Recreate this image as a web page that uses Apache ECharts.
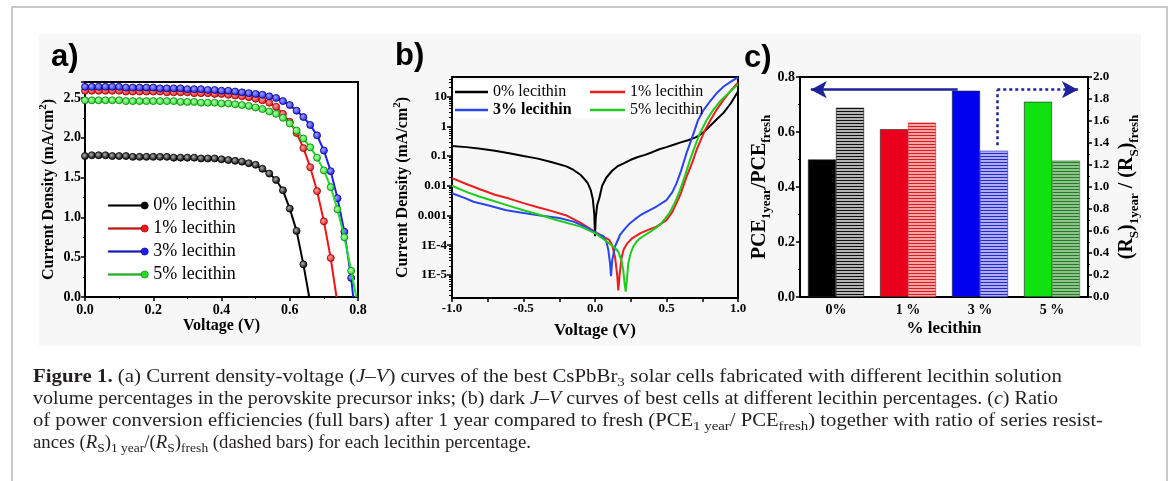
<!DOCTYPE html>
<html><head><meta charset="utf-8">
<script src="https://cdn.jsdelivr.net/npm/echarts@6/dist/echarts.min.js"></script>
<style>
html,body{margin:0;padding:0;background:#fff;width:1171px;height:481px;overflow:hidden;}
#frame{position:absolute;left:11px;top:6px;width:1153px;height:520px;border:2px solid #c9c9c9;border-bottom:none;}
#figbg{position:absolute;left:39px;top:34px;width:1102px;height:312px;background:#f7f7f7;}
#chart{position:absolute;left:0;top:0;width:1171px;height:481px;}
#caption{position:absolute;left:33px;top:365px;font-family:'Liberation Serif','Times New Roman',serif;font-size:18px;line-height:22px;color:#231f20;}
#caption .ln{white-space:nowrap;transform-origin:0 0;width:max-content;height:22px;}
#caption sub{font-size:0.72em;vertical-align:baseline;position:relative;top:0.28em;line-height:0;}
</style></head>
<body>
<div id="frame"></div>
<div id="figbg"></div>
<div id="chart"></div>
<div id="caption">
<div class="ln"><b>Figure 1.</b> (a) Current density-voltage (<i>J</i>–<i>V</i>) curves of the best CsPbBr<sub>3</sub> solar cells fabricated with different lecithin solution</div>
<div class="ln">volume percentages in the perovskite precursor inks; (b) dark <i>J</i>–<i>V</i> curves of best cells at different lecithin percentages. (<i>c</i>) Ratio</div>
<div class="ln">of power conversion efficiencies (full bars) after 1 year compared to fresh (PCE<sub>1 year</sub>/ PCE<sub>fresh</sub>) together with ratio of series resist-</div>
<div class="ln">ances (<i>R</i><sub>S</sub>)<sub>1 year</sub>/(<i>R</i><sub>S</sub>)<sub>fresh</sub> (dashed bars) for each lecithin percentage.</div>
</div>
<script>
// ---------- DATA ----------
// Panel a: illuminated J-V (V in volts, J in mA/cm2)
const voltageA = [0,0.02,0.04,0.06,0.08,0.1,0.12,0.14,0.16,0.18,0.2,0.22,0.24,0.26,0.28,0.3,0.32,0.34,0.36,0.38,0.4,0.42,0.44,0.46,0.48,0.5,0.52,0.54,0.56,0.58,0.6,0.62,0.64,0.66,0.68,0.7,0.72,0.74,0.76,0.78];
const jv0 = [1.77,1.78,1.78,1.78,1.77,1.77,1.77,1.76,1.76,1.76,1.76,1.76,1.76,1.75,1.75,1.75,1.75,1.74,1.74,1.74,1.73,1.72,1.71,1.70,1.68,1.66,1.61,1.55,1.47,1.34,1.11,0.83,0.41];
const jv1 = [2.59,2.59,2.59,2.59,2.59,2.59,2.58,2.58,2.58,2.58,2.58,2.58,2.57,2.57,2.57,2.57,2.56,2.56,2.56,2.55,2.55,2.54,2.53,2.52,2.51,2.49,2.47,2.44,2.39,2.30,2.20,2.06,1.87,1.63,1.33,0.95,0.49];
const jv3 = [2.64,2.64,2.64,2.64,2.64,2.64,2.63,2.63,2.63,2.63,2.63,2.62,2.62,2.62,2.62,2.61,2.61,2.61,2.60,2.60,2.59,2.59,2.58,2.57,2.56,2.55,2.54,2.52,2.50,2.46,2.41,2.34,2.26,2.16,2.03,1.84,1.58,1.24,0.82,0.24];
const jv5 = [2.47,2.47,2.47,2.47,2.47,2.47,2.46,2.46,2.46,2.46,2.46,2.46,2.46,2.46,2.45,2.45,2.45,2.44,2.44,2.44,2.43,2.43,2.42,2.41,2.40,2.38,2.36,2.33,2.30,2.25,2.18,2.09,1.99,1.88,1.75,1.59,1.38,1.10,0.75,0.33];
const vocA = [0.657,0.737,0.786,0.795];
const seriesNames = ['0% lecithin','1% lecithin','3% lecithin','5% lecithin'];

// Panel b: dark J-V (log scale)
const darkV0 = [-1,-0.9,-0.8,-0.7,-0.6,-0.5,-0.4,-0.3,-0.2,-0.15,-0.1,-0.07,-0.05,-0.03,-0.015,-0.005,0,0.005,0.015,0.03,0.05,0.08,0.12,0.16,0.2,0.25,0.3,0.35,0.4,0.45,0.5,0.55,0.6,0.65,0.7,0.73,0.76,0.8,0.85,0.9,0.95,1.0];
const darkJ0 = [0.22,0.2,0.175,0.15,0.125,0.1,0.082,0.062,0.045,0.034,0.023,0.016,0.012,0.0072,0.0035,0.0011,0.0002,0.0008,0.0022,0.0038,0.01,0.019,0.032,0.046,0.057,0.075,0.093,0.11,0.135,0.17,0.2,0.24,0.29,0.34,0.42,0.5,0.65,0.98,1.7,2.9,6,15];
const darkV1 = [-1,-0.9,-0.8,-0.7,-0.6,-0.5,-0.4,-0.3,-0.2,-0.1,0,0.05,0.1,0.12,0.14,0.155,0.163,0.172,0.187,0.2,0.222,0.26,0.315,0.38,0.43,0.5,0.54,0.57,0.6,0.64,0.68,0.71,0.74,0.77,0.81,0.85,0.9,0.95,1.0];
const darkJ1 = [0.018,0.0115,0.0075,0.005,0.0037,0.0026,0.0019,0.0014,0.001,0.00056,0.00028,0.0002,0.00015,0.0001,0.00004,0.00001,0.000003,0.00001,0.00004,0.00007,0.00011,0.00017,0.00025,0.00034,0.00042,0.0007,0.0013,0.0026,0.0055,0.02,0.06,0.16,0.35,0.76,1.7,3.6,8,16,30];
const darkV3 = [-1,-0.9,-0.85,-0.75,-0.62,-0.5,-0.385,-0.25,-0.15,-0.05,0.01,0.058,0.08,0.093,0.105,0.112,0.12,0.14,0.175,0.21,0.245,0.28,0.315,0.37,0.43,0.5,0.54,0.57,0.6,0.64,0.69,0.72,0.76,0.8,0.85,0.9,0.95,1.0];
const darkJ3 = [0.0056,0.0037,0.0029,0.0022,0.0015,0.0012,0.001,0.00082,0.00062,0.00038,0.00025,0.0002,0.00013,0.00007,0.000025,0.000009,0.00003,0.00009,0.00022,0.00036,0.00055,0.00075,0.001,0.0014,0.002,0.0033,0.006,0.012,0.03,0.126,0.59,1.6,3.6,6.5,13,22,32,45];
const darkV5 = [-1,-0.9,-0.8,-0.73,-0.6,-0.5,-0.4,-0.27,-0.1,0.01,0.05,0.105,0.14,0.163,0.185,0.198,0.207,0.215,0.222,0.233,0.25,0.268,0.29,0.315,0.35,0.385,0.455,0.52,0.56,0.594,0.63,0.664,0.7,0.734,0.78,0.827,0.88,0.94,1.0];
const darkJ5 = [0.01,0.0062,0.0042,0.0033,0.0021,0.0015,0.0011,0.0007,0.00042,0.00024,0.00017,0.00011,0.00008,0.00006,0.00003,0.000014,0.000005,0.0000027,0.000006,0.000025,0.000055,0.00009,0.00013,0.00017,0.00022,0.00028,0.00048,0.0012,0.0028,0.007,0.022,0.074,0.22,0.59,1.6,3.6,7.5,14,26];
const logRangeB = [1.66e-6, 46];
const logTickExpB = [-5,-4,-3,-2,-1,0,1];
const logTickLabelsB = ['1E-5','1E-4','0.001','0.01','0.1','1','10'];

// Panel c: ratios after 1 year
const categoriesC = ['0%','1 %','3 %','5 %'];
const pceRatio = [0.50,0.61,0.75,0.71];
const rsRatio = [1.72,1.585,1.33,1.24];
// annotation arrows (data units of panel c: x in [0,4] across plot, y on left axis)
const arrowSolid = [[2.19,0.754],[0.15,0.754]];
const arrowDotted = [[2.74,0.552],[2.74,0.754],[3.86,0.754]];

// ---------- STYLE ----------
const serif = "'Liberation Serif','Times New Roman',serif";
const sans = "'Liberation Sans',Arial,sans-serif";
const lineColA = ['#000000','#ee1515','#1e1eee','#22dd22'];
const markEdgeA = ['#000000','#8a0000','#00007a','#0a7a0a'];
const markHiA = ['#b0b0b0','#ffa0a0','#a0a0ff','#b0ffb0'];
const lineColB = ['#000000','#ee1c1c','#2a44ee','#1ecc1e'];
const solidColC = ['#000000','#e8001c','#0000ee','#11e011'];
const hatchInk = ['#111111','#dc1c1c','#2828d0','#2a7a2a'];
const hatchPaper = ['#b4b4b4','#f4a4a4','#acacee','#8cc48c'];
const arrowColor = '#1c2299';
const legendIconA = 'path://M0,3.3L33,3.3L33,4.7L0,4.7Z M40,4A3.6,3.6,0,1,1,32.8,4A3.6,3.6,0,1,1,40,4Z';

function hatch(ink, paper){
  const c = document.createElement('canvas'); c.width = 4; c.height = 3;
  const g = c.getContext('2d');
  g.fillStyle = paper; g.fillRect(0,0,4,3);
  g.fillStyle = ink; g.fillRect(0,0,4,1);
  return c;
}

const jvSets = [jv0,jv1,jv3,jv5];
const darkSets = [[darkV0,darkJ0],[darkV1,darkJ1],[darkV3,darkJ3],[darkV5,darkJ5]];

const tickLbl = (sz)=>({fontFamily:serif,fontWeight:'bold',fontSize:sz,color:'#000'});
const axLine = {show:true,onZero:false,lineStyle:{color:'#000',width:2}};

const seriesA = jvSets.map((arr,i)=>{
  const d = arr.map((j,k)=>[voltageA[k], j]);
  d.push({value:[vocA[i],0], symbol:'none'});
  return {
    name: seriesNames[i], type:'line', xAxisIndex:0, yAxisIndex:0, data:d,
    symbol:'circle', symbolSize:7, z:3+i,
    lineStyle:{color:lineColA[i], width:2},
    itemStyle:{color:{type:'radial',x:0.4,y:0.4,r:0.6,colorStops:[{offset:0,color:markHiA[i]},{offset:1,color:lineColA[i]}]}, borderColor:markEdgeA[i], borderWidth:0.8},
    emphasis:{disabled:true}
  };
});
const seriesB = darkSets.map((p,i)=>({
  name: 'b:'+seriesNames[i], type:'line', xAxisIndex:1, yAxisIndex:1,
  data: p[0].map((v,k)=>[v, p[1][k]]),
  symbol:'none', lineStyle:{color:lineColB[i], width:2}, itemStyle:{color:lineColB[i]}, z:3,
  emphasis:{disabled:true}
}));
const minorLogB = [];
for (let e=-6; e<=1; e++) for (let k=2;k<=9;k++){ const v=Math.log10(k)+e; if (v>Math.log10(logRangeB[0]) && v<Math.log10(logRangeB[1])) minorLogB.push(v); }

const seriesC = [
  {name:'PCE', type:'bar', xAxisIndex:2, yAxisIndex:4, barWidth:28, barGap:'0%',
   data: pceRatio.map((v,i)=>({value:v, itemStyle:{color:solidColC[i], borderColor:'#222', borderWidth:0.6}})),
   emphasis:{disabled:true}},
  {name:'Rs', type:'bar', xAxisIndex:2, yAxisIndex:5, barWidth:28, barGap:'0%',
   data: rsRatio.map((v,i)=>({value:v, itemStyle:{color:{image:hatch(hatchInk[i],hatchPaper[i]),repeat:'repeat'}, borderColor:hatchInk[i], borderWidth:0.6}})),
   emphasis:{disabled:true}},
  {name:'arrows', type:'line', xAxisIndex:3, yAxisIndex:4, data:[], symbol:'none', silent:true,
   markLine:{silent:true, animation:false, label:{show:false}, symbol:['none','arrow'], symbolSize:[13,16],
     lineStyle:{color:arrowColor, width:2.5, type:'solid'}, emphasis:{disabled:true},
     data:[
       [{coord:arrowSolid[0]},{coord:arrowSolid[1]}],
       [{coord:arrowDotted[0], lineStyle:{type:[3,3]}, symbol:'none'},{coord:arrowDotted[1], symbol:'none'}],
       [{coord:arrowDotted[1], lineStyle:{type:[3,3]}},{coord:arrowDotted[2]}]
     ]}}
];

const supRich = {sup:{fontFamily:serif,fontWeight:'bold',fontSize:11,lineHeight:11,verticalAlign:'top'}};
const subRich = {sub:{fontFamily:serif,fontWeight:'bold',fontSize:13,lineHeight:13,verticalAlign:'bottom'}};

const option = {
  animation:false, backgroundColor:'transparent',
  grid:[
    {left:85, top:82, width:273, height:215, show:true, backgroundColor:'#fff', borderColor:'#000', borderWidth:2, outerBoundsMode:'none'},
    {left:452, top:77, width:286, height:221, show:true, backgroundColor:'transparent', borderColor:'#000', borderWidth:2, outerBoundsMode:'none'},
    {left:800, top:77, width:288, height:220, show:true, backgroundColor:'#fff', borderColor:'#000', borderWidth:2, outerBoundsMode:'none'}
  ],
  xAxis:[
    {gridIndex:0, type:'value', min:0, max:0.8, interval:0.2, axisLine:axLine,
     axisTick:{show:true,length:4,lineStyle:{color:'#000',width:1.5}}, minorTick:{show:true,splitNumber:2,length:2,lineStyle:{color:'#000'}},
     splitLine:{show:false}, axisLabel:Object.assign(tickLbl(14),{margin:6,formatter:v=>v.toFixed(1)}),
     name:'Voltage (V)', nameLocation:'middle', nameGap:20, nameTextStyle:{fontFamily:serif,fontWeight:'bold',fontSize:16,color:'#000',lineHeight:16}},
    {gridIndex:1, type:'value', min:-1, max:1, interval:0.5, axisLine:axLine,
     axisTick:{show:true,length:4,lineStyle:{color:'#000',width:1.5}}, minorTick:{show:true,splitNumber:2,length:4,lineStyle:{color:'#000',width:1.5}},
     splitLine:{show:false}, axisLabel:Object.assign(tickLbl(13),{margin:4,formatter:v=>v.toFixed(1)}),
     name:'Voltage (V)', nameLocation:'middle', nameGap:24, nameTextStyle:{fontFamily:serif,fontWeight:'bold',fontSize:17,color:'#000',lineHeight:17}},
    {gridIndex:2, type:'category', data:categoriesC, axisLine:axLine, axisTick:{show:false},
     axisLabel:Object.assign(tickLbl(14),{margin:6}),
     name:'% lecithin', nameLocation:'middle', nameGap:23, nameTextStyle:{fontFamily:serif,fontWeight:'bold',fontSize:17,color:'#000',lineHeight:17}},
    {gridIndex:2, type:'value', min:0, max:4, show:false, position:'top'}
  ],
  yAxis:[
    {gridIndex:0, type:'value', min:0, max:2.7, interval:0.5, axisLine:axLine,
     axisTick:{show:true,length:4,lineStyle:{color:'#000',width:1.5}}, minorTick:{show:true,splitNumber:2,length:2,lineStyle:{color:'#000'}},
     splitLine:{show:false}, axisLabel:Object.assign(tickLbl(14),{margin:4,showMaxLabel:false,formatter:v=>v.toFixed(1)}),
     name:'Current Density (mA/cm{sup|2})', nameLocation:'middle', nameRotate:90, nameGap:22,
     nameTextStyle:{fontFamily:serif,fontWeight:'bold',fontSize:16,color:'#000',lineHeight:22,rich:supRich}},
    {gridIndex:1, type:'log', logBase:10, min:logRangeB[0], max:logRangeB[1], axisLine:axLine,
     axisTick:{show:false}, axisLabel:{show:false}, splitLine:{show:false}, minorTick:{show:false}, minorSplitLine:{show:false}},
    {gridIndex:1, type:'value', position:'left', min:Math.log10(logRangeB[0]), max:Math.log10(logRangeB[1]), axisLine:{show:false,onZero:false},
     axisTick:{show:true,length:5,customValues:logTickExpB,lineStyle:{color:'#000',width:1.5}}, splitLine:{show:false},
     axisLabel:Object.assign(tickLbl(13),{margin:5,customValues:logTickExpB,formatter:v=>logTickLabelsB[logTickExpB.indexOf(Math.round(v))]}),
     name:'Current Density (mA/cm{sup|2})', nameLocation:'middle', nameRotate:90, nameGap:37,
     nameTextStyle:{fontFamily:serif,fontWeight:'bold',fontSize:16,color:'#000',lineHeight:22,rich:supRich}},
    {gridIndex:1, type:'value', position:'left', min:Math.log10(logRangeB[0]), max:Math.log10(logRangeB[1]), axisLine:{show:false,onZero:false},
     axisTick:{show:true,length:3,customValues:minorLogB,lineStyle:{color:'#000',width:1}}, axisLabel:{show:false}, splitLine:{show:false}},
    {gridIndex:2, type:'value', position:'left', min:0, max:0.8, interval:0.2, axisLine:axLine,
     axisTick:{show:true,length:4,lineStyle:{color:'#000',width:1.5}}, minorTick:{show:true,splitNumber:2,length:2,lineStyle:{color:'#000'}},
     splitLine:{show:false}, axisLabel:Object.assign(tickLbl(14),{margin:5,formatter:v=>v.toFixed(1)}),
     name:'PCE{sub|1year}/PCE{sub|fresh}', nameLocation:'middle', nameRotate:90, nameGap:16,
     nameTextStyle:{fontFamily:serif,fontWeight:'bold',fontSize:20,color:'#000',lineHeight:28,rich:subRich}},
    {gridIndex:2, type:'value', position:'right', min:0, max:2.0, interval:0.2, axisLine:axLine,
     axisTick:{show:true,length:4,lineStyle:{color:'#000',width:1.5}}, minorTick:{show:true,splitNumber:2,length:2,lineStyle:{color:'#000'}},
     splitLine:{show:false}, axisLabel:Object.assign(tickLbl(13),{margin:5,formatter:v=>v.toFixed(1)}),
     name:'(R{sub|S}){sub|1year} / (R{sub|S}){sub|fresh}', nameLocation:'middle', nameRotate:90, nameGap:14,
     nameTextStyle:{fontFamily:serif,fontWeight:'bold',fontSize:20,color:'#000',lineHeight:28,rich:subRich}}
  ],
  legend:[
    {data:seriesNames.map((n,i)=>({name:n, icon:legendIconA, itemStyle:{color:lineColA[i], borderColor:markEdgeA[i], borderWidth:0.6}})),
     orient:'vertical', left:108, top:196, padding:0, itemGap:4, itemWidth:40, itemHeight:8,
     textStyle:{fontFamily:serif,fontSize:18,color:'#000',lineHeight:19}, selectedMode:false},
    {data:[{name:'b:0% lecithin'},{name:'b:3% lecithin',textStyle:{fontWeight:'bold'}}], icon:'rect', orient:'vertical', left:455, top:84, padding:0, itemGap:2, itemWidth:33, itemHeight:2.5,
     formatter:n=>n.slice(2), textStyle:{fontFamily:serif,fontSize:16,color:'#000',lineHeight:16}, selectedMode:false},
    {data:['b:1% lecithin','b:5% lecithin'], icon:'rect', orient:'vertical', left:590, top:84, padding:0, itemGap:2, itemWidth:35, itemHeight:2.5,
     formatter:n=>n.slice(2), textStyle:{fontFamily:serif,fontSize:16,color:'#000',lineHeight:16}, selectedMode:false}
  ],
  graphic:[
    {type:'rect', shape:{x:454,y:80,width:244,height:38}, style:{fill:'#ffffff'}, z:1, silent:true},
    {type:'text', left:51, top:42, style:{text:'a)', fontFamily:sans, fontWeight:'bold', fontSize:31, fill:'#000'}},
    {type:'text', left:395, top:41, style:{text:'b)', fontFamily:sans, fontWeight:'bold', fontSize:31, fill:'#000'}},
    {type:'text', left:744, top:43, style:{text:'c)', fontFamily:sans, fontWeight:'bold', fontSize:31, fill:'#000'}}
  ],
  series: seriesA.concat(seriesB, seriesC)
};

const chart = echarts.init(document.getElementById('chart'), null, {renderer:'canvas'});
chart.setOption(option);

// fit caption lines to the reference line lengths
const captionWidths = [1029, 1025, 1070, 498];
function fitCaption(){
  document.querySelectorAll('#caption .ln').forEach((el,i)=>{
    el.style.transform = 'none';
    const w = el.getBoundingClientRect().width;
    if (w>0) el.style.transform = 'scaleX(' + (captionWidths[i]/w) + ')';
  });
}
fitCaption();
if (document.fonts && document.fonts.ready) document.fonts.ready.then(fitCaption);
</script>
</body></html>
